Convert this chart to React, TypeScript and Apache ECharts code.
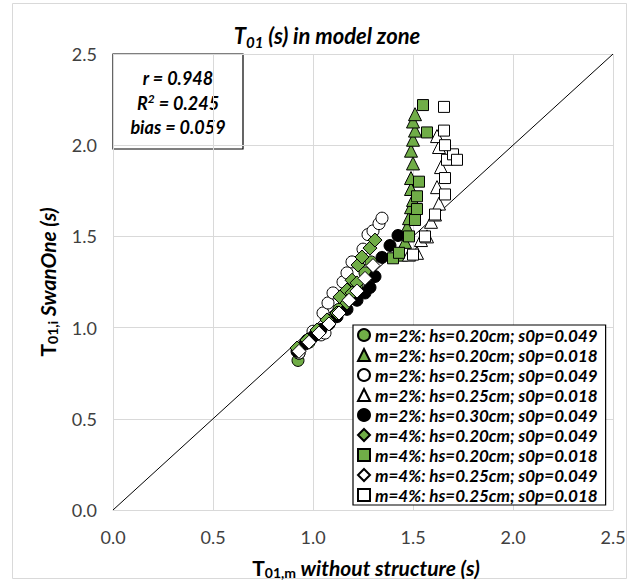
import React, { useEffect, useRef } from "react";
import * as echarts from "echarts";

// ---------- data ----------
const xTicks = [0, 0.5, 1.0, 1.5, 2.0, 2.5];
const yTicks = [0, 0.5, 1.0, 1.5, 2.0, 2.5];

const seriesNames = [
  "m=2%: hs=0.20cm; s0p=0.049",
  "m=2%: hs=0.20cm; s0p=0.018",
  "m=2%: hs=0.25cm; s0p=0.049",
  "m=2%: hs=0.25cm; s0p=0.018",
  "m=2%: hs=0.30cm; s0p=0.049",
  "m=4%: hs=0.20cm; s0p=0.049",
  "m=4%: hs=0.20cm; s0p=0.018",
  "m=4%: hs=0.25cm; s0p=0.049",
  "m=4%: hs=0.25cm; s0p=0.018",
];

const m2hs20s049: number[][] = [
  [0.925, 0.82], [0.93, 0.86], [0.98, 0.92], [1.03, 0.98], [1.08, 1.04],
  [1.13, 1.1], [1.18, 1.17], [1.22, 1.23], [1.26, 1.3], [1.29, 1.36],
];
const m2hs20s018: number[][] = [
  [1.44, 1.4], [1.46, 1.47], [1.47, 1.55], [1.48, 1.6], [1.49, 1.66],
  [1.5, 1.7], [1.49, 1.76], [1.49, 1.82], [1.5, 1.9], [1.49, 1.97],
  [1.5, 2.03], [1.51, 2.08], [1.5, 2.13], [1.51, 2.17],
];
const m2hs25s049: number[][] = [
  [0.93, 0.86], [0.97, 0.93], [1.0, 0.98], [1.04, 0.96], [1.06, 0.97],
  [1.05, 1.08], [1.075, 1.135], [1.1, 1.19], [1.15, 1.25], [1.17, 1.3],
  [1.195, 1.36], [1.25, 1.43], [1.275, 1.51], [1.3, 1.53], [1.33, 1.57], [1.345, 1.6],
];
const m2hs25s018: number[][] = [
  [1.48, 1.4], [1.52, 1.41], [1.54, 1.48], [1.57, 1.5], [1.59, 1.58],
  [1.61, 1.62], [1.63, 1.68], [1.62, 1.77], [1.64, 1.88], [1.63, 1.99], [1.62, 2.05],
];
const m2hs30s049: number[][] = [
  [0.92, 0.87], [0.96, 0.91], [1.0, 0.95], [1.04, 0.99], [1.08, 1.02],
  [1.12, 1.06], [1.17, 1.1], [1.22, 1.15], [1.26, 1.19], [1.285, 1.22],
  [1.31, 1.28], [1.345, 1.385], [1.385, 1.45], [1.425, 1.505],
];
const m4hs20s049: number[][] = [
  [0.92, 0.888], [0.97, 0.932], [1.02, 0.987], [1.07, 1.042], [1.12, 1.08],
  [1.135, 1.168], [1.17, 1.135], [1.17, 1.206], [1.195, 1.19], [1.195, 1.26],
  [1.22, 1.245], [1.225, 1.343], [1.245, 1.387], [1.285, 1.436], [1.31, 1.48],
];
const m4hs20s018: number[][] = [
  [1.4, 1.38], [1.43, 1.41], [1.48, 1.5], [1.51, 1.59], [1.52, 1.65],
  [1.52, 1.72], [1.53, 1.8], [1.57, 2.07], [1.55, 2.22],
];
const m4hs25s049: number[][] = [
  [0.93, 0.87], [0.98, 0.92], [1.03, 0.97], [1.08, 1.02], [1.13, 1.08],
  [1.18, 1.15], [1.22, 1.2], [1.26, 1.27], [1.3, 1.34],
];
const m4hs25s018: number[][] = [
  [1.5, 1.4], [1.56, 1.5], [1.61, 1.62], [1.66, 1.73], [1.66, 1.82],
  [1.67, 1.92], [1.7, 1.95], [1.72, 1.92], [1.66, 2.0], [1.655, 2.08], [1.655, 2.21],
];
const oneToOne: number[][] = [[0, 0], [2.5, 2.5]];

const statLines = ["r = 0.948", "R2 = 0.245", "bias = 0.059"];

// ---------- component ----------
export default function App() {
  const ref = useRef<HTMLDivElement>(null);

  useEffect(() => {
    if (!ref.current) return;
    const chart = echarts.init(ref.current, null, { renderer: "svg" });
    const font = "Lato, 'Open Sans', sans-serif";
    const GREEN = "#70AD47";
    const bi = { fontFamily: font, fontWeight: "bold" as const, fontStyle: "italic" as const, color: "#000" };
    const b = { fontFamily: font, fontWeight: "bold" as const, color: "#000" };

    const mk = (idx: number, data: number[][], symbol: string, size: any, fill: string) => ({
      name: seriesNames[idx],
      type: "scatter",
      data,
      symbol,
      symbolSize: size,
      itemStyle: { color: fill, borderColor: "#000", borderWidth: 1, opacity: 1 },
      emphasis: { disabled: true },
      z: 3,
    });

    chart.setOption({
      animation: false,
      backgroundColor: "#fff",
      grid: { left: 113, right: 24, top: 54, bottom: 72 },
      xAxis: {
        type: "value",
        min: xTicks[0],
        max: xTicks[xTicks.length - 1],
        interval: 0.5,
        axisLine: { show: true, lineStyle: { color: "#d9d9d9", width: 1 } },
        axisTick: { show: false },
        axisLabel: {
          margin: 18,
          fontFamily: font,
          fontSize: 18,
          color: "#404040",
          formatter: (v: number) => v.toFixed(1),
        },
        splitLine: { show: true, lineStyle: { color: "#d9d9d9", width: 1 } },
      },
      yAxis: {
        type: "value",
        min: yTicks[0],
        max: yTicks[yTicks.length - 1],
        interval: 0.5,
        axisLine: { show: false },
        axisTick: { show: false },
        axisLabel: {
          margin: 16,
          fontFamily: font,
          fontSize: 18,
          color: "#404040",
          formatter: (v: number) => v.toFixed(1),
        },
        splitLine: { show: true, lineStyle: { color: "#d9d9d9", width: 1 } },
      },
      legend: {
        data: seriesNames,
        orient: "vertical",
        left: 353,
        top: 325,
        padding: [0, 8, 0, 4],
        itemWidth: 12,
        itemHeight: 12,
        itemGap: 0,
        backgroundColor: "#fff",
        borderColor: "#000",
        borderWidth: 1.2,
        selectedMode: false,
        textStyle: { ...bi, fontSize: 17, lineHeight: 20 },
      },
      series: [
        {
          name: "1:1",
          type: "line",
          data: oneToOne,
          showSymbol: false,
          symbol: "none",
          lineStyle: { color: "#000", width: 1 },
          silent: true,
          z: 2,
        },
        mk(0, m2hs20s049, "circle", 12, GREEN),
        mk(1, m2hs20s018, "triangle", 13, GREEN),
        mk(2, m2hs25s049, "circle", 12, "#fff"),
        mk(3, m2hs25s018, "triangle", 13, "#fff"),
        mk(4, m2hs30s049, "circle", 12, "#000"),
        mk(5, m4hs20s049, "diamond", 14, GREEN),
        mk(6, m4hs20s018, "rect", 11, GREEN),
        mk(7, m4hs25s049, "diamond", 14, "#fff"),
        mk(8, m4hs25s018, "rect", 11, "#fff"),
      ],
      graphic: [
        {
          type: "rect",
          z: -10,
          silent: true,
          shape: { x: 12.5, y: 3.5, width: 614, height: 575 },
          style: { fill: "none", stroke: "#d9d9d9", lineWidth: 1 },
        },
        {
          type: "text",
          x: 327,
          y: 35,
          z: 10,
          style: {
            text: "{a|T}{s|01}{a| (s) in model zone}",
            align: "center",
            verticalAlign: "middle",
            rich: {
              a: { ...bi, fontSize: 22, lineHeight: 28 },
              s: { ...bi, fontSize: 15, lineHeight: 15, verticalAlign: "bottom" },
            },
          },
        },
        {
          type: "group",
          z: 10,
          children: [
            {
              type: "rect",
              shape: { x: 113, y: 54, width: 130, height: 95 },
              style: { fill: "#fff", stroke: "#000", lineWidth: 1.2 },
            },
            {
              type: "text",
              x: 178,
              y: 78,
              style: { text: statLines[0], ...bi, fontSize: 18, align: "center", verticalAlign: "middle", fill: "#000" },
            },
            {
              type: "text",
              x: 178,
              y: 103,
              style: {
                text: "{a|R}{p|2}{a| = 0.245}",
                align: "center",
                verticalAlign: "middle",
                rich: {
                  a: { ...bi, fontSize: 18, lineHeight: 22 },
                  p: { ...bi, fontSize: 12, lineHeight: 12, verticalAlign: "top" },
                },
              },
            },
            {
              type: "text",
              x: 178,
              y: 127,
              style: { text: statLines[2], ...bi, fontSize: 18, align: "center", verticalAlign: "middle", fill: "#000" },
            },
          ],
        },
        {
          type: "text",
          x: 366,
          y: 567,
          z: 10,
          style: {
            text: "{b|T}{s|01,m}{a| without structure (s)}",
            align: "center",
            verticalAlign: "middle",
            rich: {
              b: { ...b, fontSize: 21, lineHeight: 24 },
              s: { ...b, fontSize: 14, lineHeight: 13, verticalAlign: "bottom" },
              a: { ...bi, fontSize: 21, lineHeight: 24 },
            },
          },
        },
        {
          type: "text",
          x: 47,
          y: 282,
          rotation: Math.PI / 2,
          z: 10,
          style: {
            text: "{b|T}{s|01,i}{a| SwanOne (s)}",
            align: "center",
            verticalAlign: "middle",
            rich: {
              b: { ...b, fontSize: 21, lineHeight: 24 },
              s: { ...b, fontSize: 14, lineHeight: 13, verticalAlign: "bottom" },
              a: { ...bi, fontSize: 21, lineHeight: 24 },
            },
          },
        },
      ],
    });

    return () => chart.dispose();
  }, []);

  return (
    <div
      ref={ref}
      style={{ position: "fixed", left: 0, top: 0, width: 637, height: 582, background: "#fff" }}
    />
  );
}
